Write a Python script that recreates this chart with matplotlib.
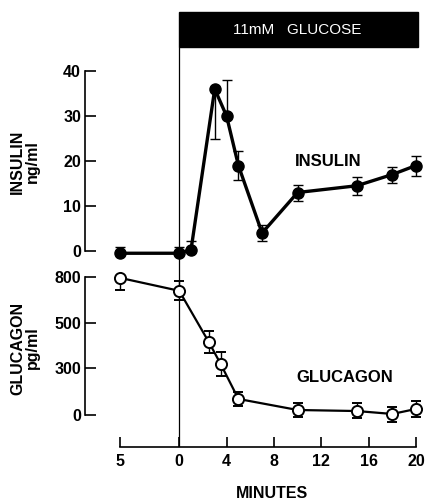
import matplotlib
matplotlib.use('Agg')
import matplotlib.pyplot as plt
from matplotlib.patches import Rectangle

plt.rcParams['font.family'] = ['Liberation Sans', 'DejaVu Sans']

# minutes, with -5 shown as "5" before the glucose step
x_ticks = [-5, 0, 4, 8, 12, 16, 20]
x_labels = ['5', '0', '4', '8', '12', '16', '20']

ins_x = [-5, 0, 1, 3, 4, 5, 7, 10, 15, 18, 20]
ins_y = [-0.5, -0.5, 0.3, 36, 30, 19, 4, 13, 14.5, 17, 19]
ins_lo = [0, 0, 0.5, 11, 0, 3.2, 1.8, 1.8, 2.1, 1.8, 2.3]
ins_hi = [1.5, 1.5, 2, 0, 8, 3.2, 1.8, 1.6, 2, 1.7, 2.2]
ins_ticks = [0, 10, 20, 30, 40]

glu_x = [-5, 0, 2.5, 3.5, 5, 10, 15, 18, 20]
glu_y = [795, 720, 423, 296, 93, 29, 23, 6, 35]
glu_lo = [70, 53, 63, 70, 41, 41, 40, 46, 45]
glu_hi = [0, 57, 64, 69, 40, 41, 47, 40, 46]
glu_ticks = [0, 270, 535, 800]
glu_tick_labels = ['0', '300', '500', '800']

W, H = 427, 500
fig = plt.figure(figsize=(W / 100, H / 100), dpi=100)

def box(left, top, right, bottom):
    return [left / W, 1 - bottom / H, (right - left) / W, (bottom - top) / H]

# background: glucose bar, guide lines, time axis
ax_bg = fig.add_axes(box(120, 12, 416, 447))
ax_bg.set_xlim(-5, 20)
ax_bg.set_ylim(447, 12)
ax_bg.patch.set_visible(False)
for s in ['top', 'right', 'left']:
    ax_bg.spines[s].set_visible(False)
ax_bg.spines['bottom'].set_linewidth(1.2)
ax_bg.set_yticks([])
ax_bg.set_xticks(x_ticks)
ax_bg.set_xticklabels(x_labels, fontsize=11.5, fontweight='bold')
ax_bg.tick_params(axis='x', direction='in', length=7.5, width=1.2, pad=5)
ax_bg.add_patch(Rectangle((0, 12), 20.15, 35, color='black', clip_on=False))
ax_bg.text(10, 29.5, '11mM   GLUCOSE', color='white', fontsize=11,
           ha='center', va='center')
ax_bg.vlines([0, 20.1], 47, 447, color='black', lw=0.9)

style = dict(color='black', capsize=3.5, elinewidth=1.0, capthick=1.0,
             clip_on=False)

ax1 = fig.add_axes(box(120, 71, 416, 251))
ax1.set_xlim(-5, 20)
ax1.set_ylim(0, 40)
ax1.errorbar(ins_x, ins_y, yerr=[ins_lo, ins_hi], fmt='o-', lw=2.4, ms=8,
             mfc='black', mec='black', **style)
ax1.text(12.6, 20, 'INSULIN', fontsize=12, fontweight='bold', ha='center',
         va='center')
ax1.set_yticks(ins_ticks)

ax2 = fig.add_axes(box(120, 277, 416, 415))
ax2.set_xlim(-5, 20)
ax2.set_ylim(0, 800)
ax2.errorbar(glu_x, glu_y, yerr=[glu_lo, glu_hi], fmt='o-', lw=1.6, ms=8,
             mfc='white', mec='black', mew=1.4, **style)
ax2.text(14.0, 220, 'GLUCAGON', fontsize=12, fontweight='bold', ha='center',
         va='center')
ax2.set_yticks(glu_ticks)
ax2.set_yticklabels(glu_tick_labels)

for ax in [ax1, ax2]:
    ax.patch.set_visible(False)
    for s in ['top', 'right', 'bottom']:
        ax.spines[s].set_visible(False)
    ax.spines['left'].set_position(('outward', 25))
    ax.spines['left'].set_linewidth(1.2)
    ax.set_xticks([])
    ax.tick_params(axis='y', direction='in', length=8, width=1.2, pad=3,
                   labelsize=11.5)
    for lab in ax.get_yticklabels():
        lab.set_fontweight('bold')

fig.text(25 / W, 1 - 162 / H, 'INSULIN\nng/ml', rotation=90, fontsize=11.5,
         fontweight='bold', ha='center', va='center', linespacing=0.95)
fig.text(25 / W, 1 - 348 / H, 'GLUCAGON\npg/ml', rotation=90, fontsize=11.5,
         fontweight='bold', ha='center', va='center', linespacing=0.95)
fig.text(272 / W, 1 - 494 / H, 'MINUTES', fontsize=11.5, fontweight='bold',
         ha='center', va='center')

fig.savefig('out.png', dpi=100)
